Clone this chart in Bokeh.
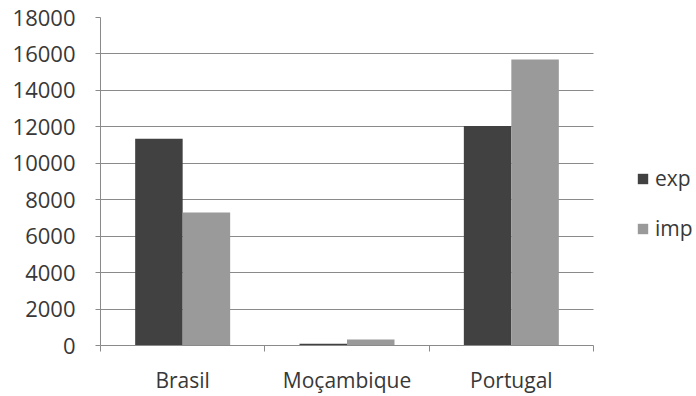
from bokeh.plotting import figure
from bokeh.models import (ColumnDataSource, Range1d, FixedTicker, SingleIntervalTicker,
                          Legend, LegendItem)
from bokeh.transform import dodge
from bokeh.embed import file_html
from bokeh.resources import INLINE

# Trade values per country
categories = ["Brasil", "Moçambique", "Portugal"]
exp_values = [11350, 100, 12050]
imp_values = [7300, 330, 15700]
series_names = ["exp", "imp"]

positions = [i + 0.5 for i in range(len(categories))]
source = ColumnDataSource(dict(x=positions, cat=categories, exp=exp_values, imp=imp_values))

TEXT = "#383838"
GRID = "#8a8a8a"
FONT = "Open Sans"

# The frame runs to the right edge so the legend can sit beside the bars;
# the axis line and grid lines are bounded to the category span.
W, H = 696, 396
LEFT, TOP, BOTTOM = 100, 17, 48
CHART_PX = 493
n = len(categories)
x_end = n * (W - LEFT) / CHART_PX

p = figure(width=W, height=H, output_backend="svg", toolbar_location=None,
           x_range=Range1d(0, x_end), y_range=Range1d(0, 18000),
           min_border_left=LEFT, min_border_right=0, min_border_top=TOP, min_border_bottom=BOTTOM)
p.outline_line_color = None
p.background_fill_color = "white"
p.border_fill_color = "white"

bar_w = 0.289
r_exp = p.vbar(x=dodge("x", -bar_w / 2, range=p.x_range), top="exp", width=bar_w,
               source=source, fill_color="#414141", line_color=None)
r_imp = p.vbar(x=dodge("x", bar_w / 2, range=p.x_range), top="imp", width=bar_w,
               source=source, fill_color="#9a9a9a", line_color=None)

# y axis
p.yaxis.ticker = SingleIntervalTicker(interval=2000)
p.yaxis.axis_line_color = GRID
p.yaxis.major_tick_line_color = GRID
p.yaxis.major_tick_out = 5
p.yaxis.major_tick_in = 0
p.yaxis.minor_tick_line_color = None
p.yaxis.major_label_text_font = FONT
p.yaxis.major_label_text_font_size = "22px"
p.yaxis.major_label_text_color = TEXT
p.yaxis.major_label_standoff = 20

# x axis: labels at category centres, tick marks at category boundaries
p.xaxis.ticker = FixedTicker(ticks=positions, minor_ticks=list(range(n + 1)))
p.xaxis.major_label_overrides = {pos: c for pos, c in zip(positions, categories)}
p.xaxis.bounds = (0, n)
p.xaxis.axis_line_color = GRID
p.xaxis.major_tick_line_color = None
p.xaxis.minor_tick_line_color = GRID
p.xaxis.minor_tick_out = 6
p.xaxis.minor_tick_in = 0
p.xaxis.major_label_text_font = FONT
p.xaxis.major_label_text_font_size = "21px"
p.xaxis.major_label_text_color = TEXT
p.xaxis.major_label_standoff = 14

p.xgrid.grid_line_color = None
p.ygrid.grid_line_color = GRID
p.ygrid.grid_line_width = 1
p.ygrid.cross_bounds = (0, n)

legend = Legend(items=[LegendItem(label=series_names[0], renderers=[r_exp]),
                       LegendItem(label=series_names[1], renderers=[r_imp])],
                location=(536, 103), orientation="vertical",
                glyph_width=13, glyph_height=13, label_standoff=6,
                label_text_font=FONT, label_text_font_size="21px", label_text_color=TEXT,
                spacing=22, padding=0, margin=0,
                border_line_color=None, background_fill_alpha=0)
p.add_layout(legend, "center")

open("out.html", "w").write(file_html(p, INLINE))
